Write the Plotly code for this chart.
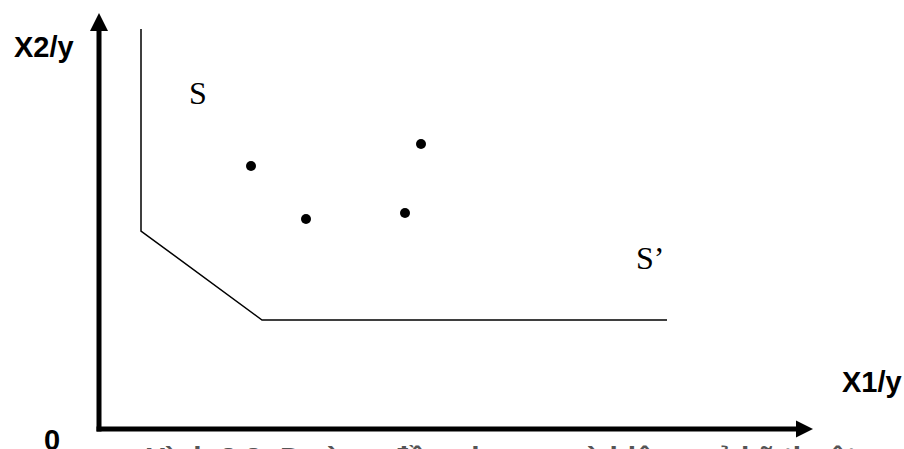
import plotly.graph_objects as go

# Input-use observations (X1/y, X2/y) in arbitrary units
firm_x1 = [15.2, 20.7, 30.6, 32.2]
firm_x2 = [26.3, 21.0, 21.6, 28.5]

# Piecewise-linear unit isoquant SS'
iso_x1 = [4.2, 4.2, 16.3, 56.8]
iso_x2 = [40.0, 19.8, 10.9, 10.9]

# Axis extents (arrow base) and arrow tips
x_axis_end, x_axis_tip = 69.7, 71.4
y_axis_end, y_axis_tip = 39.8, 41.6

caption = "Hình 2.3: Đường đồng lượng và hiệu quả kỹ thuật"

fig = go.Figure()

fig.add_trace(go.Scatter(
    x=iso_x1, y=iso_x2, mode="lines",
    line=dict(color="black", width=1.5), hoverinfo="skip", showlegend=False,
))
fig.add_trace(go.Scatter(
    x=firm_x1, y=firm_x2, mode="markers",
    marker=dict(color="black", size=10), showlegend=False,
))

# Axes drawn as thick arrows from the origin
fig.add_shape(type="line", x0=-0.25, y0=0, x1=x_axis_end, y1=0,
              line=dict(color="black", width=5))
fig.add_shape(type="line", x0=0, y0=-0.25, x1=0, y1=y_axis_end,
              line=dict(color="black", width=5))
fig.add_shape(type="path",
              path=f"M {x_axis_end},-0.85 L {x_axis_tip},0 L {x_axis_end},0.85 Z",
              fillcolor="black", line=dict(color="black", width=0))
fig.add_shape(type="path",
              path=f"M -0.9,{y_axis_end} L 0,{y_axis_tip} L 0.9,{y_axis_end} Z",
              fillcolor="black", line=dict(color="black", width=0))

bold = dict(family="Liberation Sans, Arial", size=29, color="black")
serif = dict(family="Liberation Serif, Times New Roman", size=32, color="black")

fig.add_annotation(x=-5.5, y=38.2, text="<b>X2/y</b>", showarrow=False, font=bold)
fig.add_annotation(x=77.3, y=4.7, text="<b>X1/y</b>", showarrow=False, font=bold)
fig.add_annotation(x=-4.7, y=-1.1, text="<b>0</b>", showarrow=False, font=bold)
fig.add_annotation(x=9.9, y=33.6, text="S", showarrow=False, font=serif)
fig.add_annotation(x=55.1, y=17.1, text="S’", showarrow=False, font=serif)

# Figure caption sitting just below the page edge
fig.add_annotation(x=40.1, xref="x", y=-0.0195, yref="paper", yanchor="middle",
                   text=f"<b>{caption}</b>", showarrow=False,
                   font=dict(family="Liberation Sans, Arial", size=30, color="#555555"))

fig.update_layout(
    width=904, height=449,
    margin=dict(l=0, r=0, t=0, b=0),
    paper_bgcolor="white", plot_bgcolor="white",
    xaxis=dict(range=[-9.9, 80.5], visible=False, fixedrange=True),
    yaxis=dict(range=[-2.0, 42.9], visible=False, fixedrange=True),
    showlegend=False,
)

fig.write_html("out.html")
